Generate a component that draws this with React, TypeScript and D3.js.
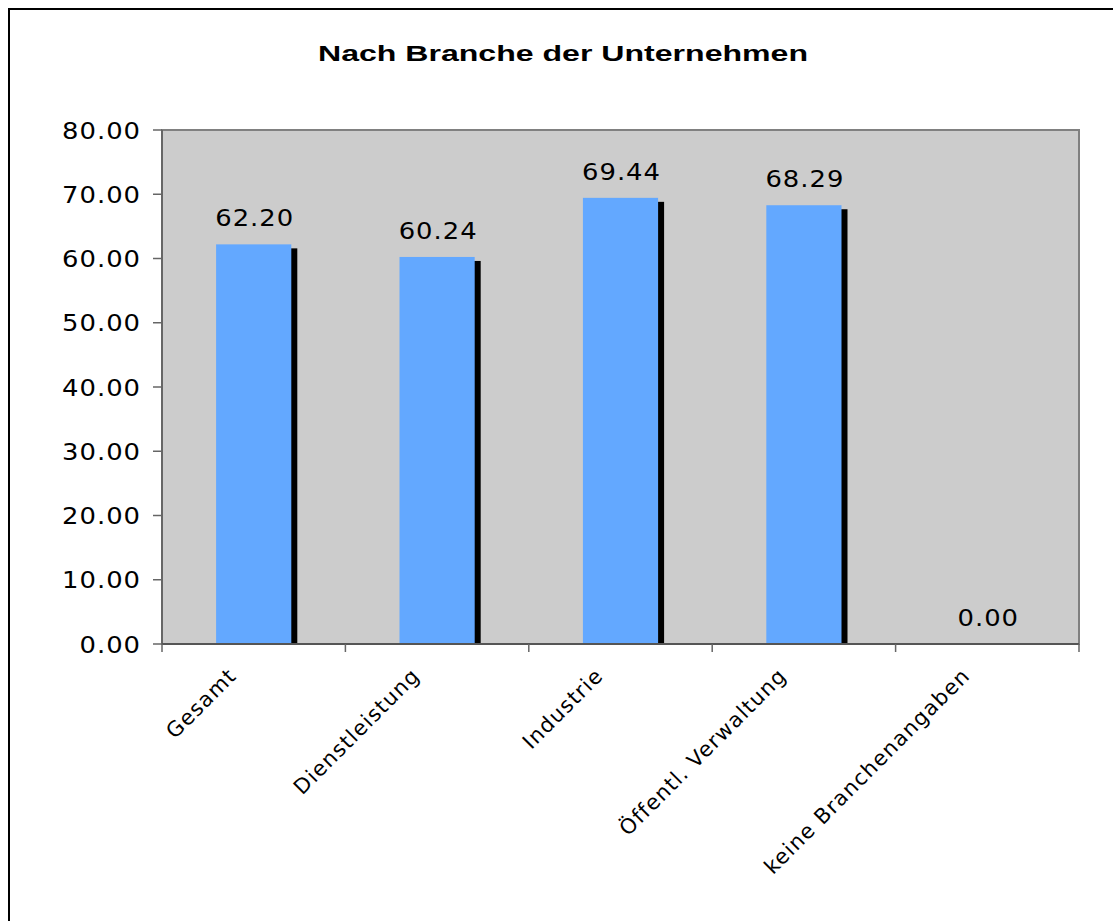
import React from 'react';
import * as d3 from 'd3';

const categories = ['Gesamt', 'Dienstleistung', 'Industrie', 'Öffentl. Verwaltung', 'keine Branchenangaben'];
const values = [62.2, 60.24, 69.44, 68.29, 0.0];
const yTicks = [0, 10, 20, 30, 40, 50, 60, 70, 80];

const W = 1113;
const H = 921;
const plot = { left: 162, top: 130, right: 1079, bottom: 644 };

const numFont = '"DejaVu Sans", Verdana, sans-serif';
// the source picture is a bit stretched sideways
const stretch = 1.1;

const App: React.FC = () => {
  const x = d3.scaleBand<string>()
    .domain(categories)
    .range([plot.left, plot.right])
    .paddingInner(0.59)
    .paddingOuter(0.295);

  const y = d3.scaleLinear().domain([0, 80]).range([plot.bottom, plot.top]);

  // boundaries between categories (tick marks on the x axis)
  const step = (plot.right - plot.left) / categories.length;
  const xTicks = d3.range(categories.length + 1).map(i => plot.left + i * step);

  return (
    <svg width={W} height={H} style={{ position: 'absolute', left: 0, top: 0, background: '#fff' }}>
      {/* outer frame */}
      <rect x={9} y={9} width={1200} height={1000} fill="#fff" stroke="#000" strokeWidth={2} />

      <text x={318} y={61} fontFamily='"Liberation Sans", Arial, sans-serif'
        fontWeight="bold" fontSize={22} textLength={490} lengthAdjust="spacingAndGlyphs">
        Nach Branche der Unternehmen
      </text>

      {/* plot area */}
      <rect x={plot.left} y={plot.top} width={plot.right - plot.left} height={plot.bottom - plot.top}
        fill="#cccccc" stroke="#808080" strokeWidth={2} />

      {/* bars with shadow */}
      {categories.map((c, i) => {
        const bx = x(c)!;
        const by = y(values[i]);
        const bh = plot.bottom - by;
        return (
          <g key={c}>
            {bh > 0 && (
              <rect x={bx + 6} y={by + 4} width={x.bandwidth()} height={Math.max(0, bh - 4)} fill="#000" />
            )}
            {bh > 0 && <rect x={bx} y={by} width={x.bandwidth()} height={bh} fill="#63a8ff" />}
            <text transform={`translate(${bx + x.bandwidth() / 2 + 1},${by - 18}) scale(${stretch},1)`}
              textAnchor="middle" fontFamily={numFont} fontSize={23.5} letterSpacing={0.9} fill="#000">
              {values[i].toFixed(2)}
            </text>
          </g>
        );
      })}

      {/* y axis */}
      <line x1={plot.left} x2={plot.left} y1={plot.top} y2={plot.bottom} stroke="#666" strokeWidth={2} />
      {yTicks.map(t => (
        <g key={t}>
          <line x1={153} x2={plot.left} y1={y(t)} y2={y(t)} stroke="#666" strokeWidth={1.5} />
          <text transform={`translate(141,${y(t) + 8.5}) scale(${stretch},1)`} textAnchor="end"
            fontFamily={numFont} fontSize={23.5} letterSpacing={0.9} fill="#000">
            {t.toFixed(2)}
          </text>
        </g>
      ))}

      {/* x axis */}
      <line x1={plot.left} x2={plot.right} y1={plot.bottom} y2={plot.bottom} stroke="#555" strokeWidth={2} />
      {xTicks.map((t, i) => (
        <line key={i} x1={t} x2={t} y1={plot.bottom} y2={plot.bottom + 8} stroke="#666" strokeWidth={1.5} />
      ))}
      {categories.map(c => {
        const cx = x(c)! + x.bandwidth() / 2;
        return (
          <text key={c} transform={`translate(${cx - 16},${plot.bottom + 33}) rotate(-45)`}
            textAnchor="end" fontFamily={numFont} fontSize={21} letterSpacing={1.2} fill="#000">
            {c}
          </text>
        );
      })}
    </svg>
  );
};

export default App;
